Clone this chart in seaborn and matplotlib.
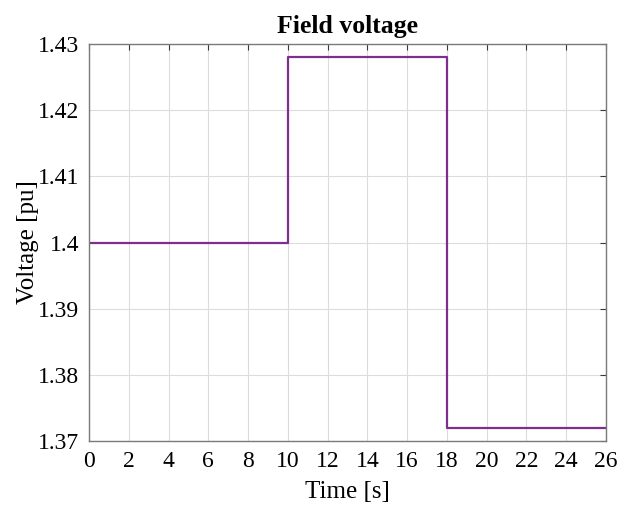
import matplotlib
matplotlib.use("Agg")
import matplotlib.pyplot as plt
import seaborn as sns
import pandas as pd

# Field voltage step profile
time_s = [0, 10, 10, 18, 18, 26]
voltage_pu = [1.400, 1.400, 1.428, 1.428, 1.372, 1.372]

x_ticks = list(range(0, 27, 2))
y_ticks = [1.37, 1.38, 1.39, 1.40, 1.41, 1.42, 1.43]
y_labels = ["1.37", "1.38", "1.39", "1.4", "1.41", "1.42", "1.43"]

sns.set_style("white")
plt.rcParams["font.family"] = ["Liberation Serif", "DejaVu Serif"]
plt.rcParams["text.color"] = "black"
plt.rcParams["axes.labelcolor"] = "black"

df = pd.DataFrame({"Time": time_s, "Voltage": voltage_pu})

fig = plt.figure(figsize=(6.19, 5.05), dpi=100)
ax = fig.add_axes([0.1438, 0.1267, 0.979 - 0.1438, 0.9129 - 0.1267])

sns.lineplot(data=df, x="Time", y="Voltage", ax=ax, color="#7E2F8E",
             linewidth=1.6, sort=False, estimator=None)

ax.set_xlim(0, 26)
ax.set_ylim(1.37, 1.43)
ax.set_xticks(x_ticks)
ax.set_yticks(y_ticks)
ax.set_yticklabels(y_labels)

ax.grid(True, color="#dcdcdc", linewidth=0.8)
ax.set_axisbelow(True)
for sp in ax.spines.values():
    sp.set_visible(True)
    sp.set_color("#7a7a7a")
    sp.set_linewidth(1.0)

ax.tick_params(direction="in", top=True, right=True, length=4, width=0.8,
               color="#3a3a3a", labelsize=17, labelcolor="black")
ax.tick_params(axis="x", pad=7)
ax.tick_params(axis="y", pad=7)

ax.set_xlabel("Time [s]", fontsize=18, labelpad=7)
ax.set_ylabel("Voltage [pu]", fontsize=18, labelpad=-1)
ax.set_title("Field voltage", fontsize=18.5, fontweight="bold", pad=8)

fig.savefig("out.png", dpi=100)
